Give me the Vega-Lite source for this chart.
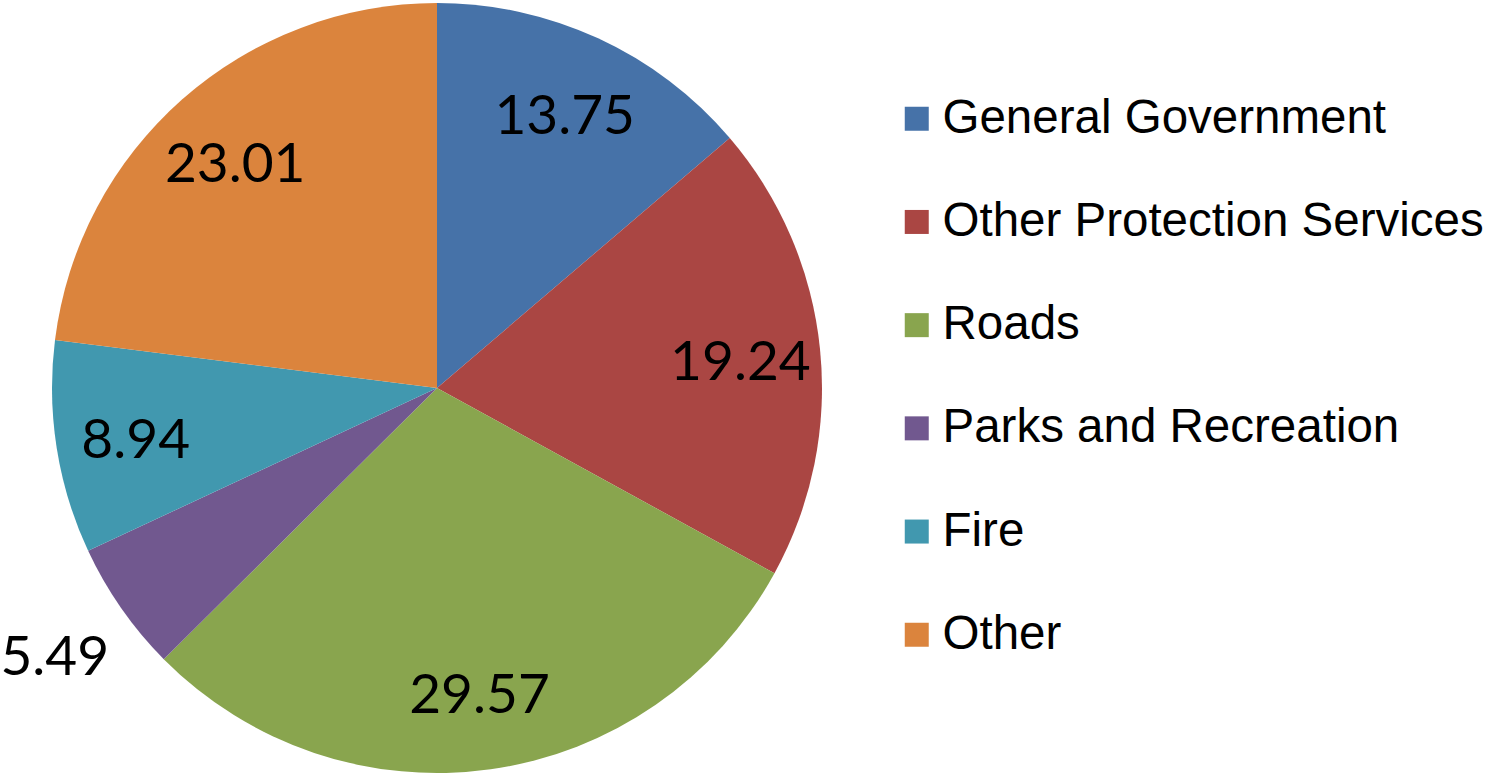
{
  "$schema": "https://vega.github.io/schema/vega-lite/v6.json",
  "width": 874,
  "height": 776,
  "autosize": {"type": "none"},
  "padding": {"left": 0, "top": 0, "right": 615, "bottom": 0},
  "background": "white",
  "config": {"view": {"stroke": null}},
  "data": {
    "values": [
      {"idx": 1, "category": "General Government", "value": 13.75},
      {"idx": 2, "category": "Other Protection Services", "value": 19.24},
      {"idx": 3, "category": "Roads", "value": 29.57},
      {"idx": 4, "category": "Parks and Recreation", "value": 5.49},
      {"idx": 5, "category": "Fire", "value": 8.94},
      {"idx": 6, "category": "Other", "value": 23.01}
    ]
  },
  "encoding": {
    "theta": {"field": "value", "type": "quantitative", "stack": true, "scale": {"type": "linear"}},
    "order": {"field": "idx", "type": "quantitative"}
  },
  "layer": [
    {
      "mark": {"type": "arc", "outerRadius": 385},
      "encoding": {
        "color": {
          "field": "category",
          "type": "nominal",
          "scale": {
            "domain": ["General Government", "Other Protection Services", "Roads", "Parks and Recreation", "Fire", "Other"],
            "range": ["#4672A8", "#AA4643", "#89A54E", "#71588F", "#4198AF", "#DB843D"]
          },
          "legend": {
            "title": null,
            "orient": "none",
            "legendX": 893,
            "legendY": 95,
            "padding": 0,
            "symbolType": "square",
            "symbolSize": 576,
            "symbolStrokeWidth": 0,
            "labelFont": "Liberation Sans",
            "labelFontSize": 47.5,
            "labelColor": "black",
            "labelOffset": 2,
            "labelLimit": 700,
            "rowPadding": 54.2
          }
        }
      }
    },
    {
      "mark": {"type": "text", "radius": 305, "dy": 6, "font": "Lato", "fontSize": 55, "align": "center", "baseline": "middle"},
      "encoding": {
        "text": {"field": "value", "type": "quantitative", "format": ".2f"},
        "color": {"condition": {"test": "datum.value < 6", "value": "transparent"}, "value": "black"}
      }
    },
    {
      "mark": {"type": "text", "radius": 466, "dy": 3, "font": "Lato", "fontSize": 55, "align": "center", "baseline": "middle"},
      "encoding": {
        "text": {"field": "value", "type": "quantitative", "format": ".2f"},
        "color": {"condition": {"test": "datum.value < 6", "value": "black"}, "value": "transparent"}
      }
    }
  ]
}
